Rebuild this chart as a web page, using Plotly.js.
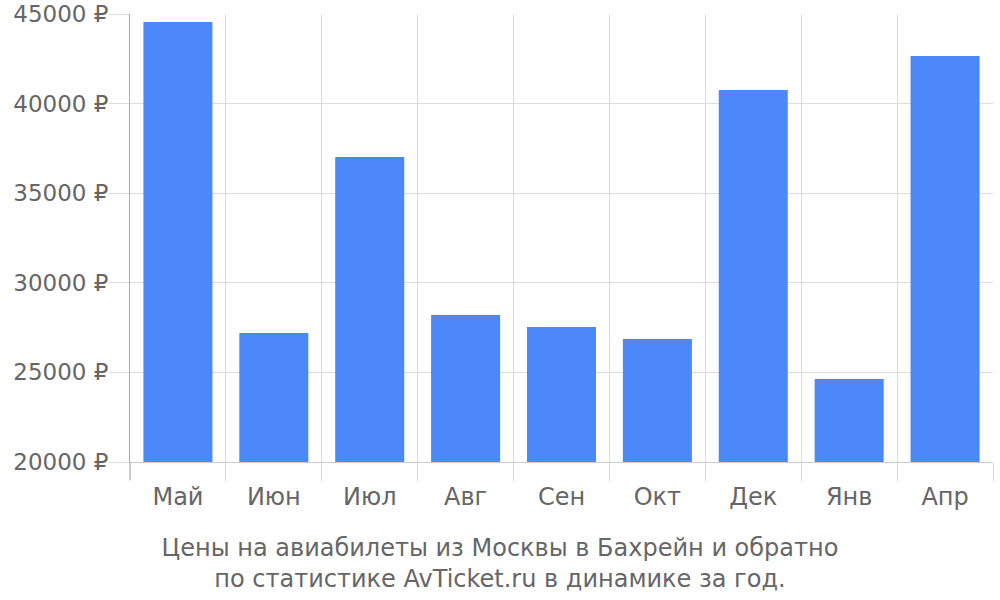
<!DOCTYPE html>
<html><head><meta charset="utf-8">
<script src="https://cdn.plot.ly/plotly-3.0.1.min.js"></script>
<style>body{margin:0;padding:0;}#chart{width:1000px;height:600px;}</style>
</head><body><div id="chart"></div>
<script>
const months = ["Май","Июн","Июл","Авг","Сен","Окт","Дек","Янв","Апр"];
const prices = [44550, 27200, 37020, 28200, 27530, 26860, 40760, 24630, 42660];
const yTicks = [20000, 25000, 30000, 35000, 40000, 45000];
const yTickText = yTicks.map(v => v + " ₽");
const titleText = "Цены на авиабилеты из Москвы в Бахрейн и обратно<br>по статистике AvTicket.ru в динамике за год.";

const fontFam = "DejaVu Sans, sans-serif";
const data = [{
  type: "bar",
  x: months,
  y: prices,
  base: 0,
  marker: {color: "#4d88f9", line: {width: 0}},
  hoverinfo: "x+y"
}];
const layout = {
  width: 1000, height: 600,
  margin: {l: 130, r: 7, t: 14, b: 138},
  paper_bgcolor: "#fff", plot_bgcolor: "#fff",
  bargap: 0.28,
  showlegend: false,
  font: {family: fontFam, color: "#666", size: 24},
  title: {
    text: titleText,
    xref: "container", yref: "container",
    x: 0.5, xanchor: "center",
    y: 0.073, yanchor: "middle",
    font: {family: fontFam, size: 24, color: "#666"}
  },
  xaxis: {
    type: "category",
    tickson: "boundaries",
    ticks: "outside", ticklen: 18, tickcolor: "#ddd", tickwidth: 1,
    ticklabelstandoff: 13,
    showgrid: true, gridcolor: "#ddd", gridwidth: 1,
    showline: true, linecolor: "#ccc", linewidth: 1,
    tickfont: {family: fontFam, size: 24, color: "#666"}
  },
  yaxis: {
    range: [20000, 45000],
    tickvals: yTicks,
    ticktext: yTickText,
    ticks: "outside", ticklen: 20, tickcolor: "#ddd",
    ticklabelstandoff: -4,
    showgrid: true, gridcolor: "#ddd",
    showline: true, linecolor: "#aaa", linewidth: 1,
    zeroline: false,
    tickfont: {family: fontFam, size: 23, color: "#666"}
  },
  shapes: [{
    type: "line", xref: "paper", yref: "paper",
    x0: 0, x1: 0, y0: 0, y1: -18/448,
    line: {color: "#aaa", width: 1}
  }]
};
Plotly.newPlot("chart", data, layout, {displayModeBar: false, staticPlot: true});
</script></body></html>
